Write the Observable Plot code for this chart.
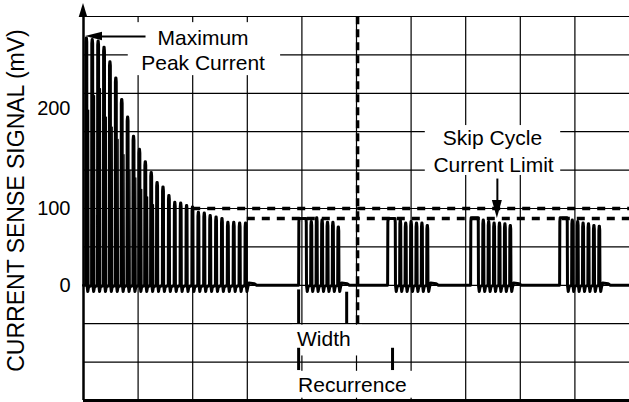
<!DOCTYPE html>
<html><head><meta charset="utf-8">
<script src="https://cdn.jsdelivr.net/npm/d3@7"></script>
<script src="https://cdn.jsdelivr.net/npm/@observablehq/plot@0.6"></script>
<style>body{margin:0;background:#fff} svg{display:block}</style>
</head><body><div id="chart"></div>
<script>
// Time in oscilloscope divisions (0–10), signal in mV
const yTickValues = [0, 100, 230];
const yTickLabels = ["0", "100", "200"];
const xGrid = [1, 2, 3, 4, 5, 6, 7, 8, 9];
const yGrid = [-100, -50, 0, 50, 100, 150, 200, 250, 300, 350];

// Bursts of switching pulses: start time, pulse period, width of first pulse top, peak values (mV)
const burstStarts = [0.04, 3.94, 5.57, 7.09, 8.72];
const burstPeriods = [0.108, 0.099, 0.099, 0.099, 0.099];
const burstFirstWidth = [0, 0.12, 0.12, 0.12, 0.12];
const burst1Peaks = [322, 320, 318, 310, 291, 270, 242, 219, 194, 177, 161, 147, 134, 128, 117, 108, 107, 104, 102, 95, 94, 91, 89, 87, 82, 82, 81, 81];
// fainter in-between spikes seen in the start-up burst (mV)
const burst1Minor = [228, 247, 256, 219, 206, 190, 170, 150, 140, 125, 115, 105];
const burst2Peaks = [87, 83, 88, 85, 82, 82, 76];
const burst3Peaks = [87, 85, 81, 83, 81, 81, 78];
const burst4Peaks = [88, 85, 83, 81, 81, 80, 78];
const burst5Peaks = [88, 85, 83, 81, 80, 78, 77];

// Dashed limit levels (mV) and where they start
const limitLevels = [100, 87];
const limitStarts = [2.0, 3.0];
const recurrenceLine = [5.02];
const widthMarks = [3.94, 4.82];
const widthMarkTops = [-6, -9];
const recurrenceMarks = [3.94, 5.66];

const bursts = [burst1Peaks, burst2Peaks, burst3Peaks, burst4Peaks, burst5Peaks];
const trace = [{t: 0, v: 0}];
bursts.forEach((peaks, b) => {
  const p = burstPeriods[b], w0 = burstFirstWidth[b];
  let t = burstStarts[b];
  peaks.forEach((pk, i) => {
    const w = i === 0 ? w0 : 0;
    trace.push(
      {t: t, v: 0}, {t: t + 0.004, v: pk - 5}, {t: t + 0.010, v: pk},
      {t: t + 0.014 + w, v: pk}, {t: t + 0.020 + w, v: pk - 5}, {t: t + 0.024 + w, v: 0},
      {t: t + 0.038 + w, v: -8}, {t: t + 0.054 + w, v: -2}
    );
    t += (i === 0 && w > 0) ? 0.22 : p;
  });
  const tl = trace[trace.length - 1].t;
  trace.push({t: tl + 0.02, v: 3}, {t: tl + 0.12, v: 2}, {t: tl + 0.16, v: 0});
});
trace.push({t: 10, v: 0});

const minor = burst1Minor.flatMap((pk, i) => {
  const t = burstStarts[0] + burstPeriods[0] * (i + 0.5);
  return [{t: t - 0.006, v: 0, k: i}, {t: t, v: pk, k: i}, {t: t + 0.006, v: 0, k: i}];
});

const ticks = yTickValues.map((v, i) => ({v, label: yTickLabels[i]}));
const boxes = [
  {x1: 0.82, x2: 3.61, y1: 273, y2: 342},
  {x1: 6.26, x2: 8.74, y1: 143, y2: 208},
  {x1: 3.83, x2: 5.11, y1: -92, y2: -52},
  {x1: 3.83, x2: 6.06, y1: -147, y2: -112}
];
const centerNotes = [
  {x: 2.19, y: 322, text: "Maximum"},
  {x: 2.19, y: 289, text: "Peak Current"},
  {x: 7.49, y: 191, text: "Skip Cycle"},
  {x: 7.51, y: 156, text: "Current Limit"}
];
const startNotes = [
  {x: 3.91, y: -70, text: "Width"},
  {x: 3.93, y: -130, text: "Recurrence"}
];

const chart = Plot.plot({
  width: 629, height: 402,
  marginLeft: 83, marginRight: 0, marginTop: 16, marginBottom: 2,
  x: {domain: [0, 10], axis: null},
  y: {domain: [-150, 350], axis: null},
  style: {fontFamily: "'Liberation Sans', Arial, Helvetica, sans-serif", background: "white", color: "black"},
  marks: [
    Plot.ruleX(xGrid, {stroke: "black", strokeWidth: 1.2}),
    Plot.ruleY(yGrid, {stroke: "black", strokeWidth: 1.2}),
    Plot.rect(boxes, {x1: "x1", x2: "x2", y1: "y1", y2: "y2", fill: "white"}),
    Plot.ruleY(limitLevels, {x1: (d, i) => limitStarts[i], x2: 10, stroke: "black", strokeWidth: 3.5, strokeDasharray: "8,7"}),
    Plot.ruleX(recurrenceLine, {y1: -50, y2: 350, stroke: "black", strokeWidth: 3.5, strokeDasharray: "8,5"}),
    Plot.line(minor, {x: "t", y: "v", z: "k", stroke: "black", strokeWidth: 1.3}),
    Plot.line(trace, {x: "t", y: "v", stroke: "black", strokeWidth: 3, strokeLinejoin: "round"}),
    Plot.ruleX(widthMarks, {y1: (d, i) => widthMarkTops[i], y2: -50, stroke: "black", strokeWidth: 3}),
    Plot.ruleX(recurrenceMarks, {y1: -82, y2: -111, stroke: "black", strokeWidth: 3}),
    Plot.ruleX([0], {y1: -150, y2: 356, stroke: "black", strokeWidth: 2.5}),
    Plot.ruleY([-150], {stroke: "black", strokeWidth: 3}),
    Plot.link([{x1: 1.136, x2: 0.3, y: 324}], {x1: "x1", x2: "x2", y1: "y", y2: "y", stroke: "black", strokeWidth: 2}),
    Plot.link([{x: 7.58, y1: 139, y2: 105}], {x1: "x", x2: "x", y1: "y1", y2: "y2", stroke: "black", strokeWidth: 2}),
    Plot.text(ticks, {x: 0, y: "v", text: "label", textAnchor: "end", dx: -13, fontSize: 20, fill: "black"}),
    Plot.text(centerNotes, {x: "x", y: "y", text: "text", textAnchor: "middle", fontSize: 21, fill: "black"}),
    Plot.text(startNotes, {x: "x", y: "y", text: "text", textAnchor: "start", fontSize: 21, fill: "black"}),
    Plot.text(["CURRENT SENSE SIGNAL (mV)"], {frameAnchor: "left", textAnchor: "middle", rotate: -90, dx: -67, dy: -8, fontSize: 23, fill: "black"})
  ]
});

const sx = chart.scale("x"), sy = chart.scale("y");
function head(tipX, tipY, dirX, dirY, len, half) {
  const bx = tipX - dirX * len, by = tipY - dirY * len;
  const px = -dirY, py = dirX;
  return `M${tipX},${tipY}L${bx + px * half},${by + py * half}L${bx - px * half},${by - py * half}Z`;
}
const svg = d3.select(chart);
svg.append("path").attr("d", head(sx.apply(0), sy.apply(367), 0, -1, 14, 4.3)).attr("fill", "black");
svg.append("path").attr("d", head(sx.apply(0.037), sy.apply(324), -1, 0, 17, 4.2)).attr("fill", "black");
svg.append("path").attr("d", head(sx.apply(7.58), sy.apply(87), 0, 1, 18, 5)).attr("fill", "black");

document.getElementById("chart").appendChild(chart);
</script>
</body></html>
